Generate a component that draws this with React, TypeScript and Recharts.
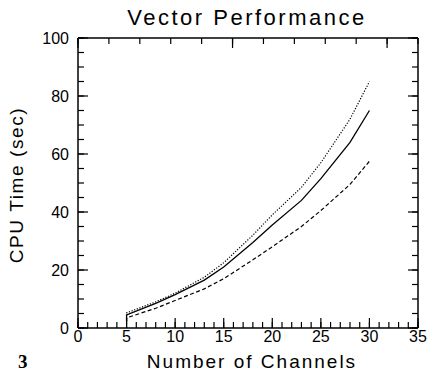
import React from "react";
import { LineChart, Line, XAxis, YAxis } from "recharts";

const channels = [5, 5, 8, 10, 13, 15, 18, 20, 23, 25, 28, 30];
const solidTimes = [2.2, 4.5, 8.5, 11.5, 16.5, 21, 29.5, 35.5, 44, 51.5, 64, 75];
const dottedTimes = [2.2, 5.2, 9, 12, 17.5, 22.5, 32, 39, 48.5, 57, 72, 85];
const dashedTimes = [2.2, 3.5, 6.8, 9.5, 13.5, 17, 23.5, 28, 35, 40.5, 49.5, 57.5];

const xTicks = Array.from({ length: 36 }, (_, i) => i);
const yTicks = Array.from({ length: 21 }, (_, i) => i * 5);

const data = channels.map((x, i) => ({
  x,
  solid: solidTimes[i],
  dotted: dottedTimes[i],
  dashed: dashedTimes[i],
}));

const FONT = "'Liberation Sans', Arial, sans-serif";
const TICK_LINE = { stroke: "#000", strokeWidth: 1.2 };

const BottomTick = (props: any) => {
  const { x, y, payload } = props;
  const v = payload.value;
  const major = v % 5 === 0;
  return (
    <g>
      {major && <path d={`M${x},${y}L${x},${y - 10}`} stroke="#000" strokeWidth={1.2} fill="none" />}
      {major && (
        <text x={x} y={y + 14} textAnchor="middle" fontSize={16} fontFamily={FONT} fill="#000">
          {v}
        </text>
      )}
    </g>
  );
};

const TopTick = (props: any) => {
  const { x, y, payload } = props;
  const major = payload.value % 5 === 0;
  return <g>{major && <path d={`M${x},${y}L${x},${y + 10}`} stroke="#000" strokeWidth={1.2} fill="none" />}</g>;
};

const LeftTick = (props: any) => {
  const { x, y, payload } = props;
  const v = payload.value;
  const major = v % 20 === 0;
  return (
    <g>
      {major && <path d={`M${x},${y}L${x + 10},${y}`} stroke="#000" strokeWidth={1.2} fill="none" />}
      {major && (
        <text x={x - 9} y={y + 6} textAnchor="end" fontSize={16} fontFamily={FONT} fill="#000">
          {v}
        </text>
      )}
    </g>
  );
};

const RightTick = (props: any) => {
  const { x, y, payload } = props;
  const major = payload.value % 20 === 0;
  return <g>{major && <path d={`M${x},${y}L${x - 10},${y}`} stroke="#000" strokeWidth={1.2} fill="none" />}</g>;
};

const Texts = () => (
  <g>
    <text x={247} y={25} textAnchor="middle" fontSize={22} letterSpacing={2.5} fontFamily={FONT} fill="#000">
      Vector Performance
    </text>
    <text x={23} y={185} transform="rotate(-90 23 185)" textAnchor="middle" fontSize={19} letterSpacing={1.6} fontFamily={FONT} fill="#000">
      CPU Time (sec)
    </text>
    <text x={252} y={368} textAnchor="middle" fontSize={19} letterSpacing={2} fontFamily={FONT} fill="#000">
      Number of Channels
    </text>
    <text x={18} y={368} fontSize={19} fontWeight="bold" fontFamily="'Liberation Serif', 'Times New Roman', serif" fill="#000">
      3
    </text>
  </g>
);

export default function App() {
  return (
    <div style={{ position: "absolute", left: 0, top: 0, width: 431, height: 381, background: "#fff" }}>
      <LineChart width={431} height={381} data={data} margin={{ top: 8, right: 0, bottom: 0, left: 0 }}>
        <XAxis
          dataKey="x"
          type="number"
          domain={[0, 35]}
          ticks={xTicks}
          interval={0}
          height={53}
          tickSize={-6}
          tickMargin={6}
          tickLine={TICK_LINE}
          axisLine={{ stroke: "#000", strokeWidth: 1.5 }}
          tick={(p: any) => <BottomTick {...p} />}
          label={{ value: "Number of Channels", content: () => <Texts /> }}
        />
        <XAxis
          xAxisId="top"
          orientation="top"
          type="number"
          domain={[0, 35]}
          allowDataOverflow
          ticks={xTicks}
          interval={0}
          height={30}
          tickSize={-6}
          tickMargin={6}
          tickLine={TICK_LINE}
          axisLine={{ stroke: "#000", strokeWidth: 1.5 }}
          tick={(p: any) => <TopTick {...p} />}
        />
        <YAxis
          type="number"
          domain={[0, 100]}
          ticks={yTicks}
          interval={0}
          width={78}
          tickSize={-6}
          tickMargin={6}
          tickLine={TICK_LINE}
          axisLine={{ stroke: "#000", strokeWidth: 1.5 }}
          tick={(p: any) => <LeftTick {...p} />}
        />
        <YAxis
          yAxisId="right"
          orientation="right"
          type="number"
          domain={[0, 100]}
          allowDataOverflow
          ticks={yTicks}
          interval={0}
          width={13}
          tickSize={-6}
          tickMargin={6}
          tickLine={TICK_LINE}
          axisLine={{ stroke: "#000", strokeWidth: 1.5 }}
          tick={(p: any) => <RightTick {...p} />}
        />
        <Line dataKey="dotted" stroke="#000" strokeWidth={1.2} strokeDasharray="1.2 1.6" dot={false} type="linear" isAnimationActive={false} />
        <Line dataKey="solid" stroke="#000" strokeWidth={1.3} dot={false} type="linear" isAnimationActive={false} />
        <Line dataKey="dashed" stroke="#000" strokeWidth={1.2} strokeDasharray="4 2.5" dot={false} type="linear" isAnimationActive={false} />
      </LineChart>
    </div>
  );
}
